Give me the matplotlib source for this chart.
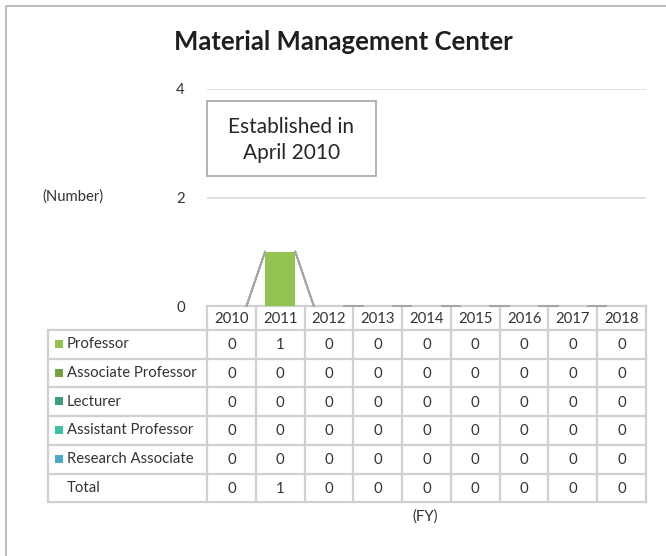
import numpy as np
import matplotlib
matplotlib.use("Agg")
import matplotlib.pyplot as plt
from matplotlib.patches import Rectangle

plt.rcParams['font.family'] = ['Lato', 'DejaVu Sans']

years = ["2010", "2011", "2012", "2013", "2014", "2015", "2016", "2017", "2018"]
positions = ["Professor", "Associate Professor", "Lecturer",
             "Assistant Professor", "Research Associate"]
professor = [0, 1, 0, 0, 0, 0, 0, 0, 0]
associate_professor = [0, 0, 0, 0, 0, 0, 0, 0, 0]
lecturer = [0, 0, 0, 0, 0, 0, 0, 0, 0]
assistant_professor = [0, 0, 0, 0, 0, 0, 0, 0, 0]
research_associate = [0, 0, 0, 0, 0, 0, 0, 0, 0]
colors = ["#92C353", "#77A043", "#3E9E78", "#3CC1A4", "#4BA9C4"]

series = [professor, associate_professor, lecturer,
          assistant_professor, research_associate]
total = list(np.sum(np.array(series), axis=0))

W, H = 666, 556
text_col = "#333333"
line_col = "#D0D0D0"
fs = 10.7

fig = plt.figure(figsize=(W / 100, H / 100), dpi=100)

# overlay in pixel coordinates (y down) for frame, table and texts
ov = fig.add_axes([0, 0, 1, 1])
ov.set_xlim(0, W)
ov.set_ylim(H, 0)
ov.axis("off")

# chart area
left_px, right_px, top_px, bottom_px = 207, 646, 89, 306
ax = fig.add_axes([left_px / W, (H - bottom_px) / H,
                   (right_px - left_px) / W, (bottom_px - top_px) / H])
x = np.arange(len(years))
bw = 0.62
bottom = np.zeros(len(years))
for vals, c in zip(series, colors):
    ax.bar(x, vals, bw, bottom=bottom, color=c, zorder=3)
    bottom = bottom + np.array(vals)

# series lines between stacked bars
cum = np.zeros(len(years))
for vals in series:
    cum = cum + np.array(vals)
    for i in range(len(years) - 1):
        ax.plot([x[i] + bw / 2, x[i + 1] - bw / 2], [cum[i], cum[i + 1]],
                color="#A6A6A6", lw=1.2, zorder=2, clip_on=False)

ax.set_xlim(-0.5, len(years) - 0.5)
ax.set_ylim(0, 4)
ax.set_yticks([0, 2, 4])
ax.set_xticks([])
for s in ax.spines.values():
    s.set_visible(False)
ax.tick_params(axis="y", length=0, pad=16, labelsize=fs, labelcolor=text_col)
for yv in [2, 4]:
    ax.axhline(yv, color="#D9D9D9", lw=1.2, zorder=1)
ax.patch.set_alpha(0)

# outer frame
ov.plot([5.5, 5.5, W], [H, 5.5, 5.5], color="#BFBFBF", lw=1.5)

ov.text(343, 42, "Material Management Center", ha="center", va="center",
        fontsize=18.5, fontweight="bold", color="#1F1F1F")
ov.text(73, 197, "(Number)", ha="center", va="center", fontsize=fs, color=text_col)
ov.text(425, 517, "(FY)", ha="center", va="center", fontsize=fs, color=text_col)

# note box
ov.add_patch(Rectangle((207, 101), 169, 75, fill=False, ec="#A6A6A6", lw=1.2))
ov.text(291.5, 140, "Established in\nApril 2010", ha="center", va="center",
        fontsize=15, color="#262626", linespacing=1.35)

# data table
tab_left = 48
col_w = (right_px - left_px) / len(years)
head_top, head_bot = 306, 330
row_h = 28.7
rows = positions + ["Total"]
row_vals = series + [total]
tab_bot = head_bot + row_h * len(rows)

lw_t = 1.6
# header
ov.plot([left_px, right_px], [head_top, head_top], color=line_col, lw=lw_t)
for j in range(len(years) + 1):
    xx = left_px + j * col_w
    ov.plot([xx, xx], [head_top, tab_bot], color=line_col, lw=lw_t)
ov.plot([tab_left, tab_left], [head_bot, tab_bot], color=line_col, lw=lw_t)
for r in range(len(rows) + 1):
    yy = head_bot + r * row_h
    ov.plot([tab_left, right_px], [yy, yy], color=line_col, lw=lw_t)

for j, yr in enumerate(years):
    ov.text(left_px + (j + 0.5) * col_w, (head_top + head_bot) / 2 + 1, yr,
            ha="center", va="center", fontsize=fs, color=text_col)

for r, (name, vals) in enumerate(zip(rows, row_vals)):
    yc = head_bot + (r + 0.5) * row_h
    if r < len(colors):
        ov.add_patch(Rectangle((55, yc - 4.5), 8, 8, color=colors[r], lw=0))
    ov.text(67, yc, name, ha="left", va="center", fontsize=fs, color=text_col)
    for j, v in enumerate(vals):
        ov.text(left_px + (j + 0.5) * col_w, yc + 1, str(int(v)),
                ha="center", va="center", fontsize=fs, color=text_col)

fig.savefig("out.png", dpi=100)
